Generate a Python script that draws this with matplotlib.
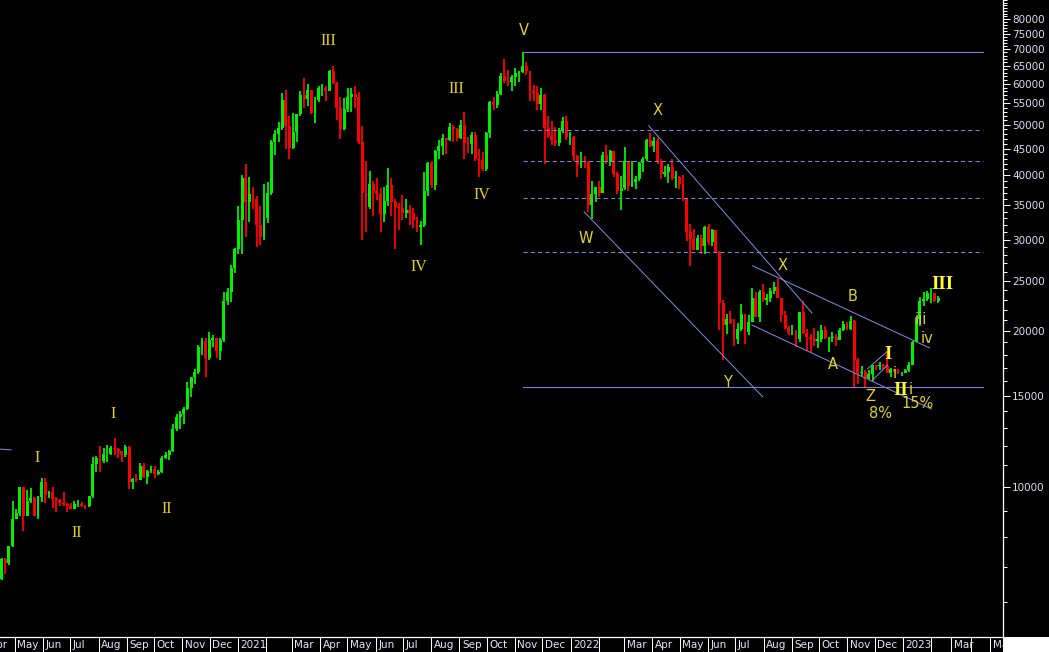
import numpy as np
import pandas as pd
import matplotlib
matplotlib.use('Agg')
import matplotlib.pyplot as plt
import matplotlib.transforms as mtransforms
from matplotlib.patches import Rectangle
from matplotlib.ticker import NullFormatter

# BTC/USD, 4-day bars from 2020-04-15, open = previous close
start = pd.Timestamp('2020-04-15')
last = pd.Timestamp('2023-02-10')
first_open = 6650

highs_2020 = [7300, 7300, 7700, 9400, 9050, 10000, 9950, 9850, 9950, 9550,
              9600, 10400, 10400, 9800, 9980, 9580, 9480, 9780, 9320, 9300,
              9380, 9450, 9330, 9220, 9620, 11400, 11450, 12000, 11900, 12050,
              12000, 12450, 11900, 11750, 12050, 12000, 10400, 10600, 11100, 11100,
              10800, 10950, 10950, 10800, 11450, 11700, 11800, 13200, 13800, 14000,
              14250, 15950, 16300, 16900, 18800, 19400, 19400, 19900, 19600, 19400,
              19400, 23800, 24200, 26800, 28900]
lows_2020 = [6600, 6800, 7050, 7650, 8650, 8800, 8200, 8800, 9300, 8800,
             8650, 9350, 9300, 9500, 9100, 8950, 9200, 9200, 8950, 9050,
             9050, 9150, 9150, 9050, 9140, 9500, 10700, 10700, 11100, 11150,
             11500, 11500, 11350, 11150, 11400, 9900, 9900, 10200, 10300, 10400,
             10150, 10650, 10400, 10550, 10650, 11300, 11250, 11700, 12800, 12950,
             13250, 14100, 14900, 15800, 16500, 18000, 16300, 17600, 18600, 17700,
             17600, 19050, 22400, 22700, 25900]
closes_2020 = [7250, 7120, 7680, 8650, 8900, 9980, 8800, 9380, 9500, 8800,
               9580, 10200, 9650, 9780, 9460, 9450, 9300, 9250, 9190, 9080,
               9250, 9280, 9200, 9170, 9600, 11050, 11350, 11200, 11550, 11550,
               11900, 11850, 11750, 11500, 11950, 10200, 10350, 10330, 10950, 10450,
               10750, 10850, 10600, 10680, 11380, 11500, 11750, 12950, 13650, 13800,
               14150, 15500, 16300, 16700, 18650, 19150, 17700, 19200, 19350, 18300,
               19250, 22800, 23800, 26450, 28850]

highs_2021 = [34800, 40000, 41950, 39700, 37900, 36400, 34900, 38500, 38700, 46800,
              48900, 50600, 57500, 58350, 52000, 52600, 52500, 58000, 61700, 60000,
              58500, 56600, 59500, 60000, 59300, 63700, 64850, 60400, 56500, 56400,
              58900, 58900, 59400, 57900, 49700, 42500, 40800, 38900, 39400, 37800,
              38000, 41300, 39500, 36000, 35400, 36600, 35900, 35000, 34600, 33200,
              32600, 40500, 42300, 42600, 44700, 46700, 48100, 47200, 50500, 49900,
              49300, 51000, 52900, 47300, 48500, 48400, 45000, 44300, 48500, 55700,
              56500, 58000, 62900, 67000, 63700, 62500, 64300, 63400, 69000, 66000,
              63600, 59800, 59300, 59000, 57400, 51900, 50800, 49500, 49300, 51800,
              52100, 48500]
lows_2021 = [28200, 28100, 30400, 32500, 34400, 29000, 29300, 30000, 32300, 36600,
             43700, 46300, 48900, 45000, 43000, 45000, 46300, 52000, 54000, 54300,
             52400, 50400, 55300, 56900, 55600, 58000, 60000, 51000, 47000, 48800,
             53000, 53000, 54000, 46000, 30000, 31100, 34400, 33400, 35800, 31000,
             32400, 34800, 33400, 28800, 31300, 32700, 33000, 32100, 31600, 31100,
             29300, 31700, 36400, 37700, 37500, 43000, 43800, 43900, 46600, 46300,
             46500, 47000, 43000, 44200, 44000, 42500, 39600, 40800, 40800, 47200,
             53300, 54000, 57000, 60100, 59500, 58000, 59500, 60500, 63000, 62300,
             55600, 55500, 53500, 53500, 42000, 47100, 45700, 45500, 45500, 48300,
             46800, 45700]
closes_2021 = [32800, 39400, 35500, 36800, 35900, 32100, 30400, 33100, 36900, 46400,
               47900, 49200, 55900, 49700, 45100, 48400, 52400, 57200, 56000, 58300,
               52800, 55800, 58800, 58800, 58100, 63500, 60300, 53800, 49000, 53600,
               56500, 57300, 56700, 46400, 37000, 34700, 38400, 37300, 36700, 33600,
               35600, 38300, 35500, 34700, 34500, 33800, 34200, 33800, 32800, 31800,
               32100, 37300, 42200, 38200, 44600, 45600, 47100, 46700, 49500, 49000,
               47100, 50000, 46100, 46000, 47700, 43000, 42800, 41000, 48200, 55400,
               54700, 57400, 62000, 60700, 60400, 61900, 63000, 63300, 65000, 63600,
               58000, 57500, 54800, 57200, 49400, 47600, 46700, 46200, 48900, 50800,
               47300, 47300]

highs_2022 = [47500, 43700, 44300, 43500, 42500, 38900, 38000, 39000, 44400, 45800,
              44700, 44500, 40500, 39800, 45400, 42500, 42600, 39900, 42400, 43300,
              46900, 48200, 47400, 47200, 43000, 41600, 42000, 42900, 40800, 39900,
              40000, 36000, 32200, 31400, 30700, 30600, 31900, 32200, 31500, 31300,
              28500, 22900, 21600, 21900, 21100, 20700, 22500, 21600, 21500, 24200,
              23800, 24000, 24600, 23600, 24200, 24900, 25200, 23200, 21900, 20400,
              20500, 20100, 21800, 22800, 20200, 19700, 20300, 20000, 20500, 20400,
              19500, 19900, 19700, 20300, 20900, 20800, 21400, 21000, 17700, 17100,
              16800, 16800, 17200, 17200, 17400, 17300, 18300, 17000, 16900, 16900,
              16700]
lows_2022 = [42600, 39700, 41300, 41300, 34000, 32900, 35500, 36300, 36900, 42100,
             41600, 39600, 36800, 34300, 37400, 37200, 37900, 37600, 38900, 40600,
             42500, 45300, 44300, 42100, 39300, 39600, 38600, 39200, 37800, 37600,
             35600, 29800, 26700, 28700, 28700, 28100, 28200, 29300, 29200, 28300,
             20100, 17600, 19700, 20600, 18700, 18900, 20000, 18900, 19600, 20800,
             21300, 20800, 22700, 22400, 22700, 23600, 23200, 20800, 20200, 19600,
             19600, 18600, 19000, 19700, 18300, 18200, 18700, 18500, 19000, 19300,
             18200, 19000, 18700, 19200, 20000, 20100, 20100, 15600, 15800, 16400,
             15500, 16100, 16000, 16800, 16800, 16900, 16600, 16300, 16700, 16500,
             16400]
closes_2022 = [43500, 41800, 42600, 42300, 35000, 36800, 37900, 37000, 43800, 42400,
               44500, 40100, 37300, 37700, 42500, 38100, 38800, 39300, 42200, 42900,
               46800, 45500, 46600, 42300, 40100, 40500, 41500, 39500, 39700, 38500,
               36000, 31000, 30100, 28700, 30300, 29200, 31700, 29700, 31300, 28400,
               22600, 20500, 21100, 20700, 19300, 20200, 21600, 19900, 20800, 23200,
               21300, 23800, 23000, 23200, 23900, 24300, 23200, 21500, 20300, 19800,
               19800, 19300, 21800, 19800, 19500, 19300, 19100, 19300, 20100, 19400,
               19400, 19500, 19200, 20100, 20600, 20200, 20900, 17600, 16600, 16700,
               16200, 16500, 17200, 17100, 17200, 17100, 16600, 16900, 16800, 16600,
               16600]

highs_2023 = [16900, 17400, 19100, 21300, 23300, 23800, 23900, 24200, 23700, 23400]
lows_2023 = [16600, 16700, 17200, 19000, 20400, 22300, 22800, 22600, 22700, 22600]
closes_2023 = [16800, 17200, 19000, 21100, 22800, 23100, 23700, 23700, 22800, 23200]

# horizontal levels drawn from the Nov 2021 top
level_prices = [69100, 48900, 42500, 36100, 28400, 15600]
level_dashed = [False, True, True, True, True, False]
level_from = '2021-11-10'
level_to = '2023-04-19'

# trend lines
trend_d0 = ['2020-04-10', '2022-01-16', '2022-03-28', '2022-07-20', '2022-07-19', '2022-11-23', '2022-11-29']
trend_p0 = [11840, 33950, 49770, 26710, 20540, 16900, 16090]
trend_d1 = ['2020-04-27', '2022-07-31', '2022-09-23', '2023-01-30', '2023-02-01', '2022-12-14', '2022-12-15']
trend_p1 = [11790, 14920, 21670, 18550, 14140, 18220, 17200]

# wave labels
wave_text = ['I', 'II', 'I', 'II', 'III', 'IV', 'III', 'IV', 'V', 'X', 'W', 'Y', 'X', 'B', 'A', 'Z',
             '8%', 'I', 'i', 'II', 'i', '15%', 'iii', 'iv', 'III']
wave_date = ['2020-05-25', '2020-07-08', '2020-08-17', '2020-10-15', '2021-04-10', '2021-07-18',
             '2021-08-29', '2021-09-26', '2021-11-11', '2022-04-07', '2022-01-18', '2022-06-22',
             '2022-08-22', '2022-11-07', '2022-10-16', '2022-11-26', '2022-12-07', '2022-12-15',
             '2022-12-23', '2022-12-29', '2023-01-09', '2023-01-17', '2023-01-21', '2023-01-27',
             '2023-02-15']
wave_price = [11370, 8150, 13830, 9070, 72500, 26590, 58600, 36600, 76200, 53400, 30100, 15870,
              26800, 23280, 17200, 14920, 13830, 17980, 16520, 15320, 15400, 14460, 21000, 19300,
              24550]
wave_kind = ['serif'] * 8 + ['sans'] * 9 + ['bold', 'sans', 'bold', 'sans', 'sans', 'sans', 'sans', 'bold']

blank_months = ['2021-02', '2022-02', '2023-02', '2023-04']
major_ticks = list(range(10000, 85000, 5000))


def xpos(day):
    d = pd.Timestamp(day)
    if d <= last:
        return (d - start).days
    # after the last bar the axis runs on weekdays
    a = (last + pd.Timedelta(days=1)).strftime('%Y-%m-%d')
    b = (d + pd.Timedelta(days=1)).strftime('%Y-%m-%d')
    return (last - start).days + int(np.busday_count(a, b))


highs = np.array(highs_2020 + highs_2021 + highs_2022 + highs_2023, float)
lows = np.array(lows_2020 + lows_2021 + lows_2022 + lows_2023, float)
closes = np.array(closes_2020 + closes_2021 + closes_2022 + closes_2023, float)
opens = np.concatenate([[first_open], closes[:-1]])
xc = np.arange(len(closes)) * 4 + 1.5

W, H = 1049, 652
fig = plt.figure(figsize=(W / 100, H / 100), dpi=100, facecolor='black')
ax = fig.add_axes([0, 15 / H, 1002.5 / W, 637 / H])
ax.set_facecolor('black')

cols = np.where(closes >= opens, '#00f000', '#ff0000')
ax.vlines(xc, lows, highs, colors=cols, lw=1.3, zorder=2)
ax.bar(xc, np.abs(closes - opens), bottom=np.minimum(opens, closes), width=3.2,
       color=cols, linewidth=0, zorder=2)

line_col = '#8282dc'
for p, dashed in zip(level_prices, level_dashed):
    ax.plot([xpos(level_from), xpos(level_to)], [p, p], color=line_col, lw=0.75,
            ls=(0, (4, 3)) if dashed else '-', zorder=3)
for d0, p0, d1, p1 in zip(trend_d0, trend_p0, trend_d1, trend_p1):
    ax.plot([xpos(d0), xpos(d1)], [p0, p1], color=line_col, lw=0.75, zorder=3)

for t, d, p, k in zip(wave_text, wave_date, wave_price, wave_kind):
    if k == 'serif':
        ax.text(xpos(d), p, t, ha='center', va='center', color='#e6d21e',
                fontsize=11.5, family='Liberation Serif', zorder=4)
    elif k == 'bold':
        ax.text(xpos(d), p, t, ha='center', va='center', color='#ffff28',
                fontsize=13.5, family='Liberation Serif', fontweight='bold', zorder=5)
    else:
        ax.text(xpos(d), p, t, ha='center', va='center', color='#e1d228',
                fontsize=10.5, family='DejaVu Sans', zorder=4)

ax.set_yscale('log')

ax.yaxis.tick_right()
ax.set_yticks(major_ticks)
ax.set_yticklabels([str(v) for v in major_ticks])
ax.set_yticks([v for v in range(6000, 88000, 1000) if v not in major_ticks], minor=True)
ax.yaxis.set_minor_formatter(NullFormatter())
ax.tick_params(axis='y', which='major', length=7 * 0.72, width=0.72, color='white',
               labelcolor='#dcdcf0', labelsize=7.5, pad=2)
ax.tick_params(axis='y', which='minor', length=4 * 0.72, width=0.72, color='white')

months = pd.date_range('2020-04-01', '2023-05-01', freq='MS')
mx = [xpos(m) for m in months]
ax.set_xticks(mx)
ax.tick_params(axis='x', which='major', length=15 * 0.72, width=0.72, color='white',
               direction='out', labelbottom=False)
ax.xaxis.set_minor_locator(plt.NullLocator())

# limits last: set_xticks would widen them
ax.set_xlim(-0.25, 1100.2)
ax.set_ylim(5130, 87100)

trans = mtransforms.blended_transform_factory(ax.transData, ax.transAxes)
for m, x in zip(months, mx):
    if m.strftime('%Y-%m') in blank_months:
        continue
    lab = str(m.year) if m.month == 1 else m.strftime('%b')
    ax.text(x + 2.8, -8 / 637, lab, transform=trans, ha='left', va='center',
            color='#e6e6f5', fontsize=7.5, family='DejaVu Sans', clip_on=False)

for side in ['left', 'top']:
    ax.spines[side].set_visible(False)
for side in ['right', 'bottom']:
    ax.spines[side].set_color('white')
    ax.spines[side].set_linewidth(0.9)

fig.add_artist(Rectangle((1003 / W, 0), 1, 15 / H, transform=fig.transFigure,
                         facecolor='white', edgecolor='none', zorder=10))

fig.savefig('out.png', dpi=100, facecolor='black')
